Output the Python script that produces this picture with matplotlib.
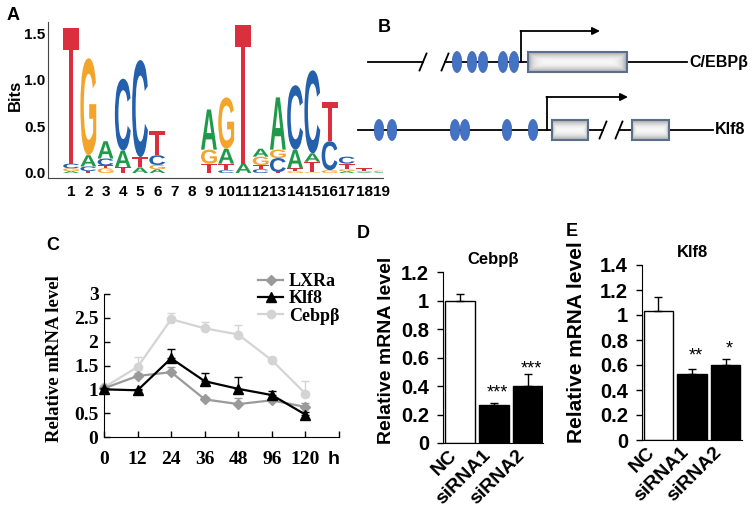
import numpy as np
import matplotlib
matplotlib.use('Agg')
import matplotlib.pyplot as plt
from matplotlib.textpath import TextPath
from matplotlib.font_manager import FontProperties
from matplotlib.patches import PathPatch, Ellipse, Rectangle
from matplotlib.transforms import Affine2D

W, H = 754, 531
SANS = 'Liberation Sans'
SERIF = 'Liberation Serif'

# ---- A: motif logo (stack per position, bottom -> top, height in bits)
logo_pos = list(range(1, 20))
logo_stacks = [
    [('A', 0.02), ('G', 0.03), ('C', 0.05), ('T', 1.45)],
    [('T', 0.02), ('C', 0.05), ('A', 0.12), ('G', 1.04)],
    [('G', 0.05), ('T', 0.03), ('C', 0.075), ('A', 0.185)],
    [('T', 0.06), ('A', 0.18), ('C', 0.77)],
    [('A', 0.06), ('T', 0.11), ('C', 1.04)],
    [('A', 0.04), ('G', 0.045), ('C', 0.105), ('T', 0.26)],
    [],
    [],
    [('T', 0.10), ('G', 0.15), ('A', 0.43)],
    [('C', 0.03), ('T', 0.07), ('A', 0.16), ('G', 0.55)],
    [('A', 0.10), ('T', 1.49)],
    [('C', 0.04), ('T', 0.045), ('G', 0.09), ('A', 0.085)],
    [('T', 0.01), ('C', 0.15), ('G', 0.09), ('A', 0.56)],
    [('G', 0.02), ('T', 0.03), ('A', 0.20), ('C', 0.69)],
    [('G', 0.01), ('T', 0.11), ('A', 0.09), ('C', 0.89)],
    [('G', 0.03), ('C', 0.31), ('T', 0.42)],
    [('A', 0.02), ('G', 0.02), ('T', 0.06), ('C', 0.075)],
    [('A', 0.01), ('G', 0.01), ('T', 0.03)],
    [('A', 0.01), ('G', 0.015)],
]
base_colors = {'A': '#1f9a4b', 'C': '#2460ac', 'G': '#f2a52a', 'T': '#dc2f3e'}

# ---- C: time course
time_labels = ['0', '12', '24', '36', '48', '96', '120']
lxra = [1.02, 1.28, 1.36, 0.79, 0.69, 0.77, 0.63]
lxra_err = [0.02, 0.07, 0.10, 0.05, 0.12, 0.05, 0.08]
klf8 = [1.00, 0.98, 1.65, 1.17, 1.01, 0.88, 0.47]
klf8_err = [0.02, 0.02, 0.19, 0.18, 0.24, 0.08, 0.05]
cebpb = [1.04, 1.47, 2.47, 2.28, 2.15, 1.61, 0.91]
cebpb_err = [0.02, 0.21, 0.14, 0.14, 0.21, 0.06, 0.27]

# ---- D / E: knockdown
groups = ['NC', 'siRNA1', 'siRNA2']
cebpb_kd = [1.00, 0.265, 0.40]
cebpb_kd_err = [0.045, 0.015, 0.085]
cebpb_stars = ['', '***', '***']
cebpb_star_y = [0, 0.35, 0.52]
klf8_kd = [1.032, 0.528, 0.603]
klf8_kd_err = [0.115, 0.037, 0.045]
klf8_stars = ['', '**', '*']
klf8_star_y = [0, 0.672, 0.728]

fig = plt.figure(figsize=(W / 100, H / 100), dpi=100)
fig.patch.set_facecolor('white')


def px_axes(x0, y0, x1, y1, **kw):
    return fig.add_axes([x0 / W, 1 - y1 / H, (x1 - x0) / W, (y1 - y0) / H], **kw)


# ================= A =================
axA = px_axes(48, 22, 383, 178)
fp_logo = FontProperties(family=SANS, weight='bold')
glyphs = {b: TextPath((0, 0), b, size=1, prop=fp_logo) for b in 'ACGT'}


def draw_letter(ax, base, x, y, w, h):
    p = glyphs[base]
    ext = p.get_extents()
    tr = (Affine2D().translate(-ext.x0, -ext.y0)
          .scale(w / ext.width, h / ext.height).translate(x - w / 2, y))
    ax.add_patch(PathPatch(tr.transform_path(p), fc=base_colors[base], ec='none'))


for pos, stack in zip(logo_pos, logo_stacks):
    y = 0
    for base, h in stack:
        draw_letter(axA, base, pos, y, 0.92, h)
        y += h

axA.set_xlim(-0.34, 19.1)
axA.set_ylim(-0.054, 1.618)
for s in ['top', 'right']:
    axA.spines[s].set_visible(False)
for s in ['left', 'bottom']:
    axA.spines[s].set_color('#444444')
axA.set_xticks(logo_pos)
axA.set_xticklabels([str(p) for p in logo_pos], fontsize=11, fontweight='bold', family=SANS)
axA.set_yticks([0, 0.5, 1.0, 1.5])
axA.set_yticklabels(['0.0', '0.5', '1.0', '1.5'], fontsize=11, fontweight='bold', family=SANS)
axA.tick_params(length=0)
axA.tick_params(axis='x', pad=5)
axA.tick_params(axis='y', pad=2)
axA.set_ylabel('Bits', fontsize=12, fontweight='bold', family=SANS)
axA.yaxis.set_label_coords(-0.075, 0.53)

# ================= C =================
axC = px_axes(104, 294, 339, 437)
xs = np.arange(len(time_labels))
series = [
    ('Cebpβ', cebpb, cebpb_err, '#d4d4d4', 'o', 6),
    ('LXRa', lxra, lxra_err, '#9a9a9a', 'D', 5),
    ('Klf8', klf8, klf8_err, 'black', '^', 7),
]
handles = {}
for name, vals, err, col, mk, ms in series:
    axC.errorbar(xs, vals, yerr=[np.zeros(len(err)), err], fmt='none', ecolor=col,
                 elinewidth=1, capsize=3, capthick=1, clip_on=False)
    ln, = axC.plot(xs, vals, color=col, marker=mk, markersize=ms, lw=1.6, clip_on=False)
    handles[name] = ln
axC.set_xlim(0, 7)
axC.set_ylim(0, 3)
for s in ['top', 'right']:
    axC.spines[s].set_visible(False)
axC.set_xticks(range(8))
axC.set_xticklabels(time_labels + [''], fontsize=14, fontweight='bold', family=SERIF)
yt = np.arange(0, 3.01, 0.5)
axC.set_yticks(yt)
axC.set_yticklabels([f'{v:g}' for v in yt], fontsize=14, fontweight='bold', family=SERIF)
axC.tick_params(direction='in', length=4, width=1)
axC.tick_params(axis='x', pad=10)
axC.tick_params(axis='y', pad=4)
axC.set_ylabel('Relative mRNA level', fontsize=13.5, fontweight='bold', family=SERIF)
axC.yaxis.set_label_coords(-0.175, 0.55)
axC.legend([handles['LXRa'], handles['Klf8'], handles['Cebpβ']], ['LXRa', 'Klf8', 'Cebpβ'],
           loc='upper left', bbox_to_anchor=(258 / W, 1 - 273 / H), bbox_transform=fig.transFigure,
           frameon=False, borderpad=0, borderaxespad=0, handlelength=1.4, handletextpad=0.3,
           labelspacing=0.02, prop=FontProperties(family=SERIF, weight='bold', size=13))


# ================= D / E =================
def kd_panel(ax, vals, err, stars, star_y, title, ymax, xlim):
    x = np.arange(len(groups))
    ax.bar(x, vals, width=0.87, color=['white', 'black', 'black'], edgecolor='black', lw=1)
    ax.errorbar(x, vals, yerr=[np.zeros(len(err)), err], fmt='none', ecolor='black',
                elinewidth=1, capsize=3, capthick=1)
    for xi, st, sy in zip(x, stars, star_y):
        if st:
            ax.text(xi + 0.1, sy, st, ha='center', va='center', fontsize=13, family=SANS)
    ax.set_xlim(*xlim)
    ax.set_ylim(0, ymax)
    for s in ['top', 'right']:
        ax.spines[s].set_visible(False)
    ax.set_xticks(x)
    ax.set_xticklabels(groups, rotation=45, ha='right', fontsize=14, fontweight='bold', family=SANS)
    yt = np.arange(0, ymax + 0.001, 0.2)
    ax.set_yticks(yt)
    ax.set_yticklabels([f'{v:g}' for v in yt], fontsize=14.5, fontweight='bold', family=SANS)
    ax.tick_params(axis='x', length=0, pad=3)
    ax.tick_params(axis='y', direction='out', length=4, width=1, pad=6)
    ax.set_title(title, fontsize=12, fontweight='bold', family=SANS, pad=6)


axD = px_axes(443, 272, 543, 443)
kd_panel(axD, cebpb_kd, cebpb_kd_err, cebpb_stars, cebpb_star_y, 'Cebpβ', 1.2, (-0.5, 2.44))
axD.set_ylabel('Relative mRNA level', fontsize=14, fontweight='bold', family=SANS)
axD.yaxis.set_label_coords(-0.48, 0.54)

axE = px_axes(642, 265, 742, 440)
kd_panel(axE, klf8_kd, klf8_kd_err, klf8_stars, klf8_star_y, 'Klf8', 1.4, (-0.49, 2.49))
axE.set_ylabel('Relative mRNA level', fontsize=15, fontweight='bold', family=SANS)
axE.yaxis.set_label_coords(-0.56, 0.56)

# ================= overlay: B schematic and panel letters =================
axO = fig.add_axes([0, 0, 1, 1], zorder=10)
axO.patch.set_visible(False)
axO.axis('off')

rows = [
    dict(y=62, segs=[(368, 423), (445, 687)], breaks=[423, 445],
         dots=[457, 472, 483, 503, 514], boxes=[(528, 627)], bh=20,
         arrow=(521, 31, 600), label='C/EBPβ', lx=689),
    dict(y=130, segs=[(358, 603), (619, 713)], breaks=[603, 619],
         dots=[379, 392, 455, 465, 507, 533], boxes=[(552, 588), (632, 669)], bh=20,
         arrow=(547, 97, 628), label='Klf8', lx=715),
]
u = np.linspace(-1, 1, 80)
v = np.linspace(-1, 1, 24)
U, V = np.meshgrid(u, v)
shade = 0.97 - 0.32 * np.maximum(np.abs(V) ** 2, np.abs(U) ** 10)
for r in rows:
    y = r['y']
    for a, b in r['segs']:
        axO.plot([a, b], [y, y], color='black', lw=1.3, zorder=1)
    for bx in r['breaks']:
        axO.plot([bx - 3.5, bx + 3.5], [y + 8.5, y - 8.5], color='black', lw=1.3, zorder=1)
    for dx in r['dots']:
        axO.add_patch(Ellipse((dx, y), 9.5, 21, fc='#4472c4', ec='#3a62b0', lw=0.5, zorder=3))
    for a, b in r['boxes']:
        axO.imshow(shade, cmap='gray', vmin=0, vmax=1, extent=(a, b, y + r['bh'] / 2, y - r['bh'] / 2),
                   aspect='auto', zorder=2, interpolation='bilinear')
        axO.add_patch(Rectangle((a, y - r['bh'] / 2), b - a, r['bh'], fc='none',
                                ec='#5b6e8c', lw=1.5, zorder=3))
    ax_x, ax_top, ax_end = r['arrow']
    axO.plot([ax_x, ax_x], [y, ax_top], color='black', lw=1.3, zorder=4)
    axO.annotate('', xy=(ax_end, ax_top), xytext=(ax_x - 0.6, ax_top),
                 arrowprops=dict(arrowstyle='-|>', color='black', lw=1.3,
                                 mutation_scale=11, shrinkA=0, shrinkB=0), zorder=4)
    axO.text(r['lx'], y, r['label'], ha='left', va='center', fontsize=11.5,
             fontweight='bold', family=SANS)

panel_letters = [('A', 13, 15), ('B', 384, 27), ('C', 53, 245), ('D', 363, 233), ('E', 572, 231)]
for lab, lx, ly in panel_letters:
    axO.text(lx, ly, lab, ha='center', va='center', fontsize=13, fontweight='bold', family=SANS)
axO.text(334, 459, 'h', ha='center', va='center', fontsize=14, fontweight='bold', family=SANS)

axO.set_xlim(0, W)
axO.set_ylim(H, 0)

fig.savefig('out.png', dpi=100)
